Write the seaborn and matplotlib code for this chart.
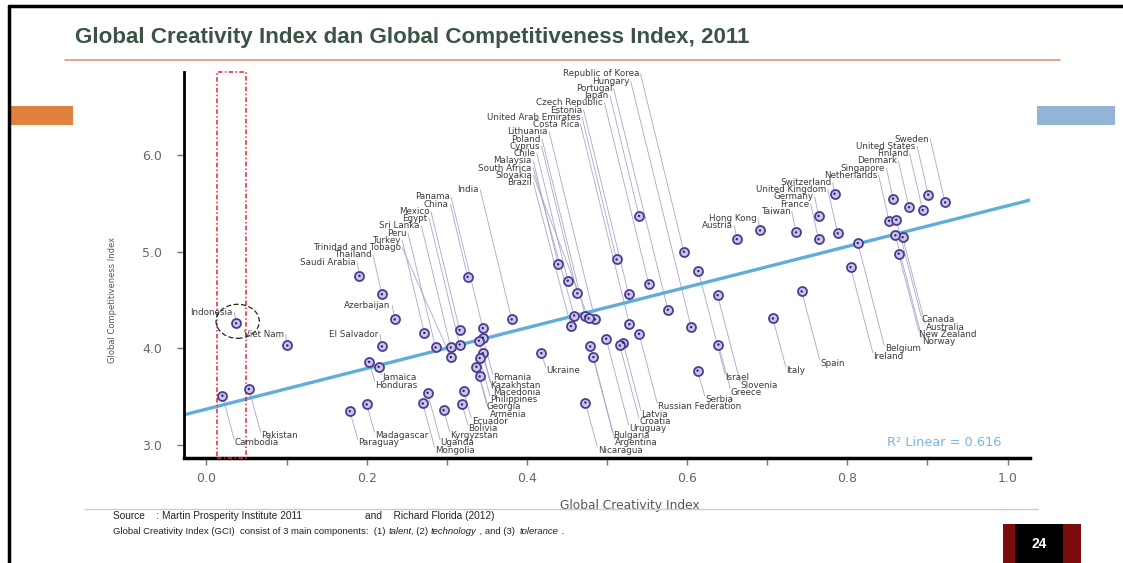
import numpy as np
import pandas as pd
import matplotlib
matplotlib.use("Agg")
import matplotlib.pyplot as plt
from matplotlib.patches import Rectangle, Ellipse
from matplotlib.lines import Line2D
from matplotlib.ticker import MultipleLocator, FuncFormatter
import seaborn as sns

# Global Creativity Index (x) vs Global Competitiveness Index (y), 2011
countries = [
    "Republic of Korea", "Hungary", "Portugal", "Japan", "Czech Republic", "Estonia",
    "United Arab Emirates", "Costa Rica", "Lithuania", "Poland", "Cyprus", "Chile",
    "Malaysia", "South Africa", "Slovakia", "Brazil", "India", "Panama", "China",
    "Mexico", "Egypt", "Sri Lanka", "Peru", "Turkey", "Trinidad and Tobago",
    "Thailand", "Saudi Arabia",
    "Sweden", "United States", "Finland", "Denmark", "Singapore", "Netherlands",
    "Switzerland", "United Kingdom", "Germany", "France", "Taiwan", "Hong Kong", "Austria",
    "Canada", "Australia", "New Zealand", "Norway", "Belgium", "Ireland", "Spain",
    "Italy", "Israel", "Slovenia", "Greece", "Serbia", "Russian Federation", "Latvia",
    "Croatia", "Uruguay", "Bulgaria", "Argentina", "Nicaragua",
    "Ukraine", "Romania", "Kazakhstan", "Macedonia", "Philippines", "Georgia",
    "Armenia", "Ecuador", "Bolivia", "Kyrgyzstan", "Uganda", "Mongolia",
    "Indonesia", "Viet Nam", "Azerbaijan", "El Salvador", "Jamaica", "Honduras",
    "Pakistan", "Cambodia", "Madagascar", "Paraguay",
]
gci = [
    0.596, 0.605, 0.576, 0.540, 0.552, 0.527,
    0.512, 0.528, 0.485, 0.473, 0.463, 0.451,
    0.439, 0.459, 0.477, 0.455, 0.381, 0.345, 0.326,
    0.316, 0.316, 0.305, 0.286, 0.272, 0.305,
    0.219, 0.191,
    0.922, 0.901, 0.894, 0.877, 0.857, 0.852,
    0.784, 0.788, 0.764, 0.764, 0.736, 0.691, 0.662,
    0.861, 0.869, 0.864, 0.860, 0.813, 0.804, 0.743,
    0.707, 0.614, 0.638, 0.639, 0.613, 0.540, 0.520,
    0.516, 0.499, 0.479, 0.483, 0.473,
    0.418, 0.345, 0.340, 0.345, 0.341, 0.337,
    0.341, 0.321, 0.319, 0.296, 0.276, 0.270,
    0.037, 0.101, 0.235, 0.219, 0.215, 0.203,
    0.053, 0.020, 0.200, 0.179,
]
gti = [
    5.00, 4.22, 4.40, 5.37, 4.67, 4.56,
    4.92, 4.25, 4.30, 4.33, 4.57, 4.70,
    4.87, 4.34, 4.31, 4.23, 4.30, 4.21, 4.74,
    4.19, 4.04, 4.01, 4.01, 4.16, 3.91,
    4.56, 4.75,
    5.51, 5.59, 5.43, 5.46, 5.55, 5.32,
    5.60, 5.19, 5.37, 5.13, 5.20, 5.22, 5.13,
    5.33, 5.15, 4.98, 5.17, 5.09, 4.84, 4.59,
    4.31, 4.80, 4.55, 4.04, 3.77, 4.15, 4.06,
    4.03, 4.10, 4.02, 3.91, 3.44,
    3.95, 4.11, 4.08, 3.95, 3.90, 3.81,
    3.71, 3.56, 3.42, 3.36, 3.54, 3.43,
    4.26, 4.03, 4.30, 4.02, 3.81, 3.86,
    3.58, 3.51, 3.42, 3.35,
]

# label stacks: (side, first row, names top to bottom)
label_groups = [
    ("up", 0, countries[0:27]),
    ("up", 9, countries[27:40]),
    ("up", 32, ["Azerbaijan", "Indonesia"]),
    ("up", 36, ["Viet Nam"]),
    ("up", 36, ["El Salvador"]),
    ("down", 34, countries[40:59]),
    ("down", 41, countries[59:71]),
    ("down", 42, ["Jamaica", "Honduras"]),
    ("down", 50, ["Madagascar", "Paraguay"]),
    ("down", 50, ["Pakistan", "Cambodia"]),
]

W, H = 1123, 563
AX_L, AX_R, AX_T, AX_B = 184, 1030, 72, 458
XLIM = (-0.028, 1.028)
YLIM = (2.866, 6.859)
ROW0, ROW_STEP, SLANT = 74, 7.235, 0.25

LABEL_FONT = ["DejaVu Sans"]
SLIDE_FONT = ["Liberation Sans", "DejaVu Sans"]

df = pd.DataFrame({"Country": countries, "GCI": gci, "GTI": gti})

sns.set_style("white")
plt.rcParams["font.family"] = ["DejaVu Sans"]

fig = plt.figure(figsize=(W / 100, H / 100), dpi=100)
ax = fig.add_axes([AX_L / W, 1 - AX_B / H, (AX_R - AX_L) / W, (AX_B - AX_T) / H])
ax.set_xlim(*XLIM)
ax.set_ylim(*YLIM)

sx = (AX_R - AX_L) / (XLIM[1] - XLIM[0])
sy = (AX_B - AX_T) / (YLIM[1] - YLIM[0])

# regression line over the full axis width
sns.regplot(data=df, x="GCI", y="GTI", scatter=False, ci=None, truncate=False,
            color="#62acd8", line_kws={"lw": 2.4, "zorder": 2}, ax=ax)
ax.set_xlim(*XLIM)
ax.set_ylim(*YLIM)

# labels with leader lines
pos = dict(zip(countries, zip(gci, gti)))


def row_y(k):
    return YLIM[1] - (ROW0 + ROW_STEP * k - AX_T) / sy


for side, start, names in label_groups:
    prev = None
    for i, name in enumerate(names):
        px, py = pos[name]
        ly = row_y(start + i)
        dy_px = abs(py - ly) * sy
        if side == "up":
            lx = px - SLANT * dy_px / sx
            if prev is not None:
                lx = min(lx, prev)
            prev = lx
            ax.plot([lx + 1 / sx, px], [ly, py], color="#aaa6c8", lw=0.6, zorder=1)
            ax.text(lx - 0.5 / sx, ly, name, ha="right", va="center", fontsize=6.3,
                    color="#3a3a3a", family=LABEL_FONT, zorder=4)
        else:
            lx = px + SLANT * dy_px / sx
            ax.plot([px, lx], [py, ly + 3.5 / sy], color="#aaa6c8", lw=0.6, zorder=1)
            ax.text(lx + 0.5 / sx, ly, name, ha="left", va="center", fontsize=6.3,
                    color="#3a3a3a", family=LABEL_FONT, zorder=4)

# ring markers with a dark centre
sns.scatterplot(data=df, x="GCI", y="GTI", s=42, color="#cbc5ea", edgecolor="#4a3d92",
                linewidth=1.3, zorder=5, ax=ax, legend=False)
sns.scatterplot(data=df, x="GCI", y="GTI", s=3, color="#2e2472", edgecolor="none",
                zorder=6, ax=ax, legend=False)

ax.text(0.850, 3.03, "R\u00b2 Linear = 0.616", fontsize=9.3, color="#78b6de",
        ha="left", va="center")

# highlight around Indonesia
ax.add_patch(Rectangle((0.013, YLIM[0]), 0.036, YLIM[1] - YLIM[0], fill=False,
                       ec="#e3262b", lw=1.1, ls=(0, (3, 1.5, 1, 1.5)), clip_on=False, zorder=3))
ax.add_patch(Ellipse((0.039, 4.28), 0.054, 0.352, fill=False, ec="#222222", lw=0.9,
                     ls=(0, (4, 2)), zorder=3))

# axes styling
sns.despine(ax=ax)
ax.spines["left"].set_linewidth(2.0)
ax.spines["bottom"].set_linewidth(2.5)
ax.spines["left"].set_color("black")
ax.spines["bottom"].set_color("black")
ax.xaxis.set_major_locator(MultipleLocator(0.2))
ax.xaxis.set_minor_locator(MultipleLocator(0.1))
ax.yaxis.set_major_locator(MultipleLocator(1.0))
ax.xaxis.set_major_formatter(FuncFormatter(lambda v, p: f"{v:.1f}"))
ax.yaxis.set_major_formatter(FuncFormatter(lambda v, p: f"{v:.1f}"))
ax.tick_params(axis="x", which="both", direction="out", length=5, width=1,
               color="#777777", labelsize=9, labelcolor="#666666", pad=5, bottom=True)
ax.tick_params(axis="y", which="both", direction="out", length=5, width=1,
               color="#777777", labelsize=9, labelcolor="#666666", pad=11, left=True)
ax.set_xlabel("Global Creativity Index", fontsize=8.8, color="#555555")
ax.set_ylabel("Global Competitiveness Index", fontsize=6, color="#555555")
ax.xaxis.set_label_coords((630 - AX_L) / (AX_R - AX_L), -(499 - AX_B) / (AX_B - AX_T))
ax.yaxis.set_label_coords(-(AX_L - 117) / (AX_R - AX_L), (AX_B - 300) / (AX_B - AX_T))


# slide decorations (pixel positions on the page)
def fx(x):
    return x / W


def fy(y):
    return 1 - y / H


fig.add_artist(Line2D([fx(9), 1], [fy(6), fy(6)], color="black", lw=2.5))
fig.add_artist(Line2D([fx(9), fx(9)], [0, fy(6)], color="black", lw=2.5))
fig.text(fx(75), fy(37), "Global Creativity Index dan Global Competitiveness Index, 2011",
         fontsize=16.1, fontweight="bold", color="#3b5446", va="center", family=SLIDE_FONT)
fig.add_artist(Line2D([fx(65), fx(1060)], [fy(60), fy(60)], color="#d69a74", lw=1.2))
fig.add_artist(Rectangle((fx(8), fy(125)), fx(65), 19 / H, color="#e0813f", lw=0))
fig.add_artist(Rectangle((fx(1037), fy(125)), fx(78), 19 / H, color="#94b4d6", lw=0))

fig.add_artist(Line2D([fx(85), fx(1038)], [fy(509), fy(509)], color="#cccccc", lw=1))
fig.text(fx(113), fy(516), "Source    : Martin Prosperity Institute 2011", fontsize=7.3,
         color="#222222", va="center", family=SLIDE_FONT)
fig.text(fx(365), fy(516), "and    Richard Florida (2012)", fontsize=7.3,
         color="#222222", va="center", family=SLIDE_FONT)

renderer = fig.canvas.get_renderer()
segments = [
    ("Global Creativity Index (GCI)  consist of 3 main components:  (1) ", "normal"),
    ("talent", "italic"), (", (2) ", "normal"), ("technology", "italic"),
    (" , and (3)  ", "normal"), ("tolerance", "italic"), (" .", "normal"),
]
cursor = fx(113)
for seg, style in segments:
    t = fig.text(cursor, fy(531), seg, fontsize=6.8, color="#222222", va="center",
                 style=style, family=SLIDE_FONT)
    cursor = t.get_window_extent(renderer).x1 / W

fig.add_artist(Rectangle((fx(1003), 0), fx(78), 39 / H, color="#7b0c0c", lw=0))
fig.add_artist(Rectangle((fx(1015), 0), fx(48), 39 / H, color="black", lw=0))
fig.text(fx(1039), fy(544), "24", fontsize=10, fontweight="bold", color="white",
         ha="center", va="center", family=SLIDE_FONT)

fig.savefig("out.png", dpi=100)
